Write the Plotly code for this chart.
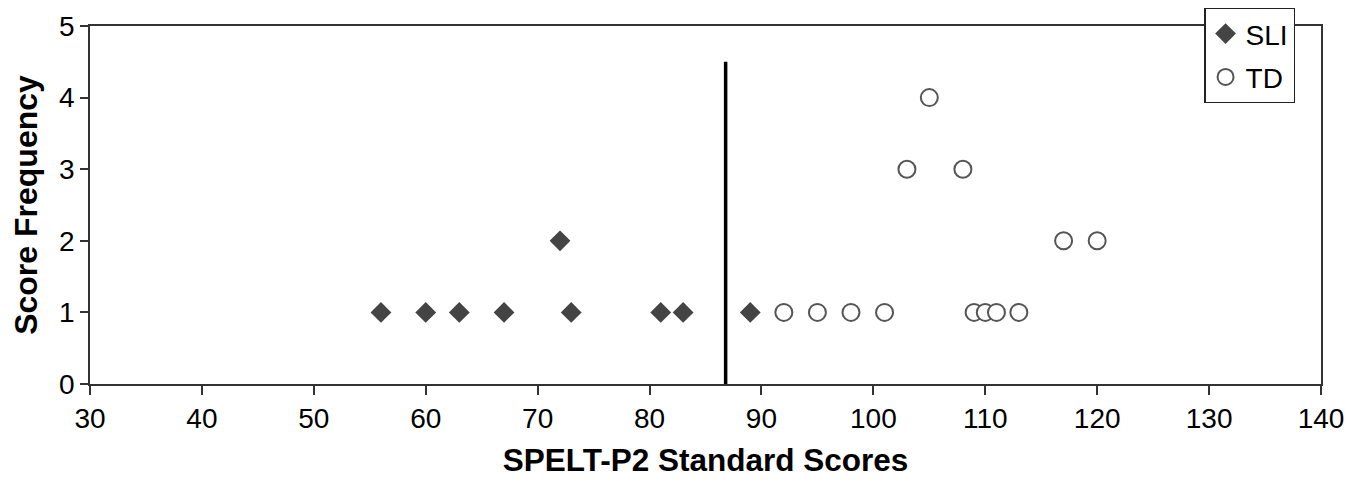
import plotly.graph_objects as go

# Data
sli_scores = [56, 60, 63, 67, 72, 73, 81, 83, 89]
sli_freq = [1, 1, 1, 1, 2, 1, 1, 1, 1]
td_scores = [92, 95, 98, 101, 103, 105, 108, 109, 110, 111, 113, 117, 120]
td_freq = [1, 1, 1, 1, 3, 4, 3, 1, 1, 1, 1, 2, 2]
cutoff_x = [86.8, 86.8]
cutoff_y = [0, 4.5]
x_ticks = [30, 40, 50, 60, 70, 80, 90, 100, 110, 120, 130, 140]
y_ticks = [0, 1, 2, 3, 4, 5]

FONT = "Liberation Sans, Arial, sans-serif"
AX = "#333333"

fig = go.Figure()
fig.add_trace(go.Scatter(
    x=cutoff_x, y=cutoff_y, mode="lines",
    line=dict(color="black", width=3.5), showlegend=False, hoverinfo="skip"))
fig.add_trace(go.Scatter(
    x=sli_scores, y=sli_freq, mode="markers", name="SLI", legendgroup="a",
    marker=dict(symbol="diamond", size=16, color="#444444",
                line=dict(width=0))))
fig.add_trace(go.Scatter(
    x=td_scores, y=td_freq, mode="markers", name="TD", legendgroup="b",
    marker=dict(symbol="circle", size=17, color="white",
                line=dict(width=2, color="#555555"))))

# page body has an 8px margin, so the figure is sized to fit the window
fig.update_layout(
    width=1357, height=475,
    margin=dict(l=82, r=44, t=18, b=99, autoexpand=False),
    paper_bgcolor="white", plot_bgcolor="white",
    font=dict(family=FONT, color="black", size=28),
    legend=dict(
        x=0.905, y=1.052, xanchor="left", yanchor="top",
        bgcolor="white", bordercolor="#222222", borderwidth=1.5,
        font=dict(size=28, family=FONT),
        traceorder="grouped", tracegroupgap=4,
        itemsizing="trace",
    ),
    xaxis=dict(
        range=[30, 140], tickvals=x_ticks, ticktext=[str(v) for v in x_ticks],
        showgrid=False, zeroline=False,
        showline=True, linecolor=AX, linewidth=1.5, mirror=True,
        ticks="outside", ticklen=9, tickwidth=1.5, tickcolor=AX,
        tickfont=dict(size=28, family=FONT),
        title=dict(text="<b>SPELT-P2 Standard Scores</b>",
                   font=dict(size=31.5, family=FONT), standoff=16),
    ),
    yaxis=dict(
        range=[0, 5], tickvals=y_ticks, ticktext=[str(v) for v in y_ticks],
        showgrid=False, zeroline=False,
        showline=True, linecolor=AX, linewidth=1.5, mirror=True,
        ticks="outside", ticklen=8, tickwidth=1.5, tickcolor=AX,
        tickfont=dict(size=28, family=FONT),
        title=dict(text="<b>Score Frequency</b>",
                   font=dict(size=32, family=FONT), standoff=15),
    ),
)

fig.write_html("out.html")
